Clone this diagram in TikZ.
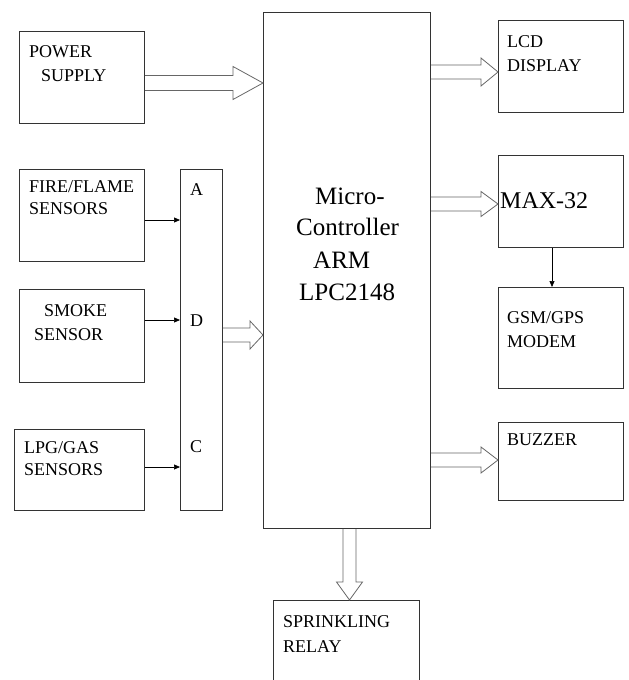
\documentclass[tikz,border=0pt]{standalone}
\usepackage{fontspec}
\setmainfont{Liberation Serif}
\usetikzlibrary{arrows.meta,calc}
\tikzset{
  blk/.style={draw=black!80, line width=0.8pt, rectangle, anchor=north west, inner sep=0pt},
  lbl/.style={anchor=base west, inner sep=0pt, font=\fontsize{18}{22}\selectfont},
  big/.style={anchor=base west, inner sep=0pt, font=\fontsize{25}{30}\selectfont},
  hollow/.style={draw=black!60, line width=0.8pt, line join=miter},
  thin/.style={draw=black, line width=0.7pt, -{Triangle[length=6pt,width=5pt]}}
}
\newcommand\harrow[5]{%
  \draw[hollow] let \p1=(#1),\p2=(#2) in
    (\x1,\y1+#3) -- (\x2-#5,\y1+#3) -- (\x2-#5,\y1+#4) -- (\x2,\y2)
    -- (\x2-#5,\y1-#4) -- (\x2-#5,\y1-#3) -- (\x1,\y1-#3);}
\newcommand\varrow[5]{%
  \draw[hollow] let \p1=(#1),\p2=(#2) in
    (\x1-#3,\y1) -- (\x1-#3,\y2+#5) -- (\x1-#4,\y2+#5) -- (\x2,\y2)
    -- (\x1+#4,\y2+#5) -- (\x1+#3,\y2+#5) -- (\x1+#3,\y1);}
\begin{document}
\begin{tikzpicture}[x=1pt,y=-1pt]
\useasboundingbox (0,0) rectangle (629,680);
\clip (0,0) rectangle (629,680);
% boxes
\node[blk, minimum width=125pt, minimum height=92pt] (ps) at (19,31) {};
\node[blk, minimum width=125pt, minimum height=92pt] (fire) at (19,169) {};
\node[blk, minimum width=125pt, minimum height=93pt] (smoke) at (19,289) {};
\node[blk, minimum width=130pt, minimum height=81pt] (lpg) at (14,429) {};
\node[blk, minimum width=42pt, minimum height=341pt] (adc) at (180,169) {};
\node[blk, minimum width=167pt, minimum height=516pt] (mc) at (263,12) {};
\node[blk, minimum width=125pt, minimum height=92pt] (lcd) at (498,20) {};
\node[blk, minimum width=125pt, minimum height=92pt] (max) at (498,155) {};
\node[blk, minimum width=125pt, minimum height=101pt] (gsm) at (498,287) {};
\node[blk, minimum width=125pt, minimum height=78pt] (buz) at (498,422) {};
\node[blk, minimum width=146pt, minimum height=100pt] (spr) at (273,600) {};
% labels
\node[lbl] (t1) at (29,57) {POWER};
\node[lbl] (t2) at (41,81) {SUPPLY};
\node[lbl] (t3) at (29,192) {FIRE/FLAME};
\node[lbl] (t4) at (29,214) {SENSORS};
\node[lbl] (t5) at (44,316) {SMOKE};
\node[lbl] (t6) at (34,340) {SENSOR};
\node[lbl] (t7) at (24,453) {LPG/GAS};
\node[lbl] (t8) at (24,475) {SENSORS};
\node[lbl] (ta) at (190,195) {A};
\node[lbl] (td) at (190,326) {D};
\node[lbl] (tc) at (190,452) {C};
\node[big] (m1) at (315,204) {Micro-};
\node[big] (m2) at (296,235) {Controller};
\node[big] (m3) at (313,268) {ARM};
\node[big] (m4) at (299,300) {LPC2148};
\node[lbl] (l1) at (507,47) {LCD};
\node[lbl] (l2) at (507,71) {DISPLAY};
\node[anchor=base west, inner sep=0pt, font=\fontsize{24}{28}\selectfont] (mx) at (500,208) {MAX-32};
\node[lbl] (g1) at (507,323) {GSM/GPS};
\node[lbl] (g2) at (507,347) {MODEM};
\node[lbl] (b1) at (507,445) {BUZZER};
\node[lbl] (s1) at (283,627) {SPRINKLING};
\node[lbl] (s2) at (283,652) {RELAY};
% thin connectors
\draw[thin] (fire.east |- 0,220) -- (adc.west |- 0,220);
\draw[thin] (smoke.east |- 0,320) -- (adc.west |- 0,320);
\draw[thin] (lpg.east |- 0,467) -- (adc.west |- 0,467);
\draw[thin] (552,0 |- max.south) -- (552,0 |- gsm.north);
% hollow connectors
\harrow{ps.east |- 0,83}{mc.west |- 0,83}{7.5pt}{16.5pt}{30pt}
\harrow{adc.east |- 0,335}{mc.west |- 0,335}{7pt}{14pt}{13pt}
\harrow{mc.east |- 0,72}{lcd.west |- 0,72}{7pt}{14pt}{17pt}
\harrow{mc.east |- 0,204}{max.west |- 0,204}{7pt}{12.5pt}{17pt}
\harrow{mc.east |- 0,460}{buz.west |- 0,460}{7pt}{13pt}{17pt}
\varrow{mc.south -| 349.5,0}{spr.north -| 349.5,0}{6.5pt}{13pt}{18pt}
\end{tikzpicture}
\end{document}
